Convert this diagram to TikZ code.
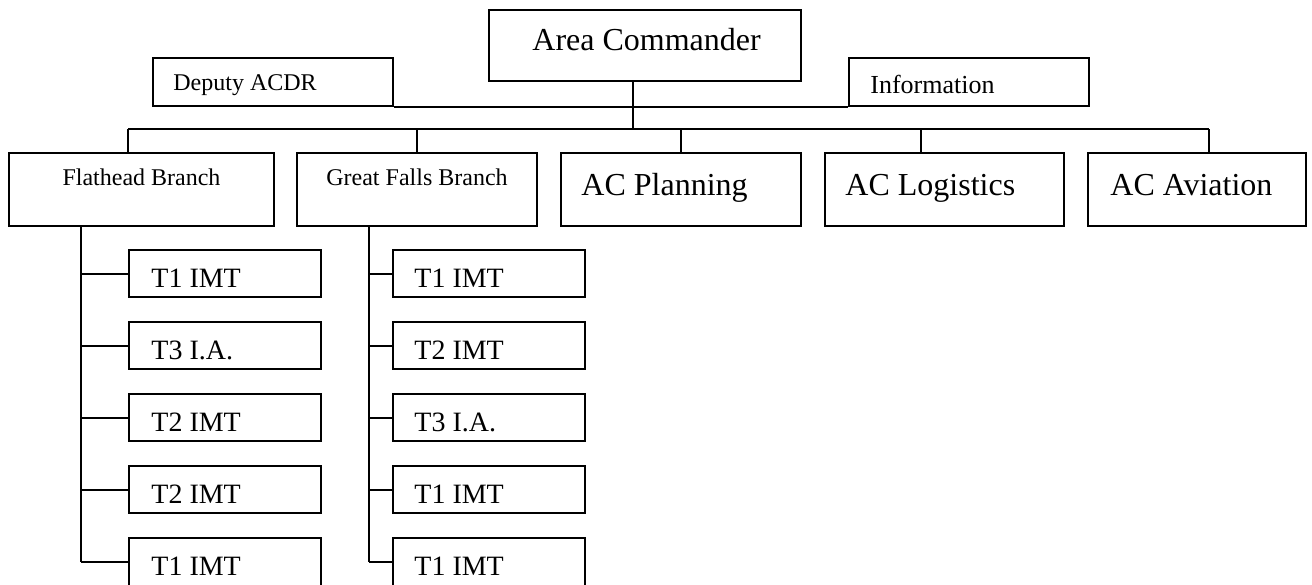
\documentclass[tikz,border=0pt]{standalone}
\usepackage{fontspec}
\setmainfont{Liberation Serif}
\usetikzlibrary{fit}
\begin{document}
\begin{tikzpicture}[x=0.5pt,y=-0.5pt,
  box/.style={draw, line width=1pt, inner sep=0pt, rectangle},
  conn/.style={line width=1pt},
  bigtxt/.style={font=\fontsize{16pt}{19pt}\selectfont, inner sep=0pt, anchor=base west},
  smalltxt/.style={font=\fontsize{12pt}{14pt}\selectfont, inner sep=0pt},
  infotxt/.style={font=\fontsize{13pt}{15pt}\selectfont, inner sep=0pt, anchor=base west},
  midtxt/.style={font=\fontsize{14pt}{17pt}\selectfont, inner sep=0pt, anchor=base west}]
\useasboundingbox (0,0) rectangle (1312,584);
\clip (0,0) rectangle (1312,584);

% top level
\node[box, fit={(489,9.5) (801,81)}] (ac) {};
\node[bigtxt] (actxt) at (532,50) {Area Commander};
\node[box, fit={(153,58) (393,105.5)}] (dep) {};
\node[smalltxt, anchor=base west] (deptxt) at (173,90.7) {Deputy ACDR};
\node[box, fit={(849,58) (1089,105.5)}] (info) {};
\node[infotxt] (infotxt) at (870,93) {Information};

% second level
\node[box, fit={(9,153) (274,226)}] (fh) {};
\node[smalltxt, anchor=base] (fhtxt) at (141.5,185) {Flathead Branch};
\node[box, fit={(297,153) (537,226)}] (gf) {};
\node[smalltxt, anchor=base] (gftxt) at (417,185) {Great Falls Branch};
\node[box, fit={(561,153) (801,226)}] (pl) {};
\node[bigtxt] (pltxt) at (581,195) {AC Planning};
\node[box, fit={(825,153) (1064,226)}] (lg) {};
\node[bigtxt] (lgtxt) at (845,195) {AC Logistics};
\node[box, fit={(1088,153) (1306,226)}] (av) {};
\node[bigtxt] (avtxt) at (1110,195) {AC Aviation};

% connector trunks
\coordinate (fv) at (81,226);
\coordinate (gv) at (369,226);

% third level
\foreach \i/\y/\h/\a/\b in {1/250/47/T1 IMT/T1 IMT, 2/322/47/T3 I.A./T2 IMT, 3/394/47/T2 IMT/T3 I.A., 4/466/47/T2 IMT/T1 IMT, 5/538/60/T1 IMT/T1 IMT}{
  \node[box, fit={(129,\y) (321,{\y+\h})}] (f\i) {};
  \node[midtxt] (ft\i) at (151,{\y+37}) {\a};
  \node[box, fit={(393,\y) (585,{\y+\h})}] (g\i) {};
  \node[midtxt] (gt\i) at (414,{\y+37}) {\b};
  \coordinate (fc\i) at (129,{\y+23.5});
  \coordinate (gc\i) at (393,{\y+23.5});
  \draw[conn] (fv |- fc\i) -- (f\i.west |- fc\i);
  \draw[conn] (gv |- gc\i) -- (g\i.west |- gc\i);
}

% connectors
\draw[conn] (dep.south east) -- (info.south west);
\coordinate (bl) at (128,129);
\coordinate (br) at (1209,129);
\coordinate (ba) at (633,129);
\coordinate (bg) at (921,129);
\draw[conn] (ba |- ac.south) -- (ba);
\draw[conn] (bl) -- (br);
\draw[conn] (bl) -- (bl |- fh.north);
\draw[conn] (gf.north |- bl) -- (gf.north);
\draw[conn] (pl.north |- bl) -- (pl.north);
\draw[conn] (bg) -- (bg |- lg.north);
\draw[conn] (br) -- (br |- av.north);
\draw[conn] (fv) -- (fv |- fc5);
\draw[conn] (gv) -- (gv |- gc5);
\end{tikzpicture}
\end{document}
